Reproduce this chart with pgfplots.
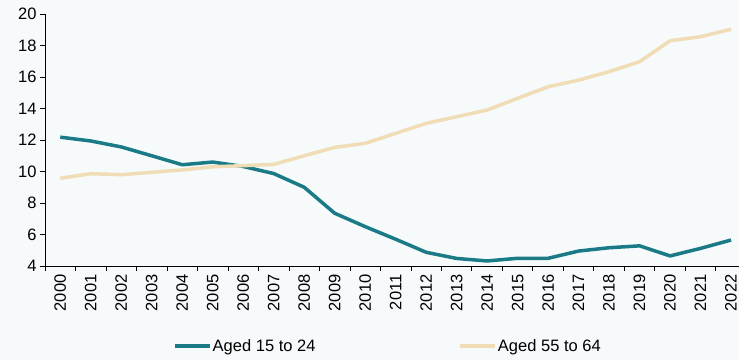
\documentclass[border=0pt]{standalone}
\usepackage{pgfplots}
\pgfplotsset{compat=1.18}
\usepackage{fontspec}
\setmainfont{Liberation Sans}
\definecolor{bg}{RGB}{246,250,251}
\definecolor{teal1}{RGB}{26,122,133}
\definecolor{beige1}{RGB}{240,221,181}
\begin{document}
\begin{tikzpicture}
\path[use as bounding box, fill=bg] (0pt,0pt) rectangle (739pt,-360pt);
\begin{axis}[
  at={(45pt,-266pt)}, anchor=south west,
  scale only axis, width=694pt, height=252pt,
  xmin=1999.5, xmax=2022.26, ymin=4, ymax=20,
  axis lines=left, axis line style={-, black, line width=0.8pt},
  xtick={2000,...,2022},
  major x tick style={draw=none},
  minor xtick={1999.5,2000.5,...,2021.5},
  minor x tick style={black, line width=0.8pt},
  minor tick length=5pt,
  ytick={4,6,...,20},
  y tick style={black, line width=0.8pt},
  major tick length=5pt,
  tick align=outside,
  xticklabel style={rotate=90, anchor=east, xshift=0pt},
  x tick label style={/pgf/number format/1000 sep={}},
  /pgf/number format/assume math mode=true,
  tick label style={font=\fontsize{16.5}{18}\selectfont, text=black},
  legend style={at={(0.4935,-0.317)}, anchor=center, draw=none, fill=none,
    font=\fontsize{16.5}{18}\selectfont, column sep=0pt,
    nodes={inner xsep=1pt},
    /tikz/every even column/.append style={column sep=142pt}},
  legend columns=2,
  legend image code/.code={\draw[#1] (0pt,0pt) -- (35pt,0pt);},
  legend cell align=left,
]
\addplot[teal1, line width=3.5pt, line join=round] coordinates {
(2000,12.18) (2001,11.94) (2002,11.56) (2003,11.0) (2004,10.43) (2005,10.6)
(2006,10.32) (2007,9.87) (2008,9.0) (2009,7.35) (2010,6.5) (2011,5.7)
(2012,4.87) (2013,4.48) (2014,4.32) (2015,4.49) (2016,4.49) (2017,4.95)
(2018,5.16) (2019,5.28) (2020,4.64) (2021,5.12) (2022,5.65)};
\addlegendentry{Aged 15 to 24}
\addplot[beige1, line width=3.5pt, line join=round] coordinates {
(2000,9.57) (2001,9.86) (2002,9.8) (2003,9.95) (2004,10.1) (2005,10.3)
(2006,10.37) (2007,10.45) (2008,11.0) (2009,11.53) (2010,11.79) (2011,12.42)
(2012,13.06) (2013,13.48) (2014,13.9) (2015,14.65) (2016,15.38) (2017,15.8)
(2018,16.34) (2019,16.97) (2020,18.3) (2021,18.56) (2022,19.03)};
\addlegendentry{Aged 55 to 64}
\end{axis}
\end{tikzpicture}
\end{document}
